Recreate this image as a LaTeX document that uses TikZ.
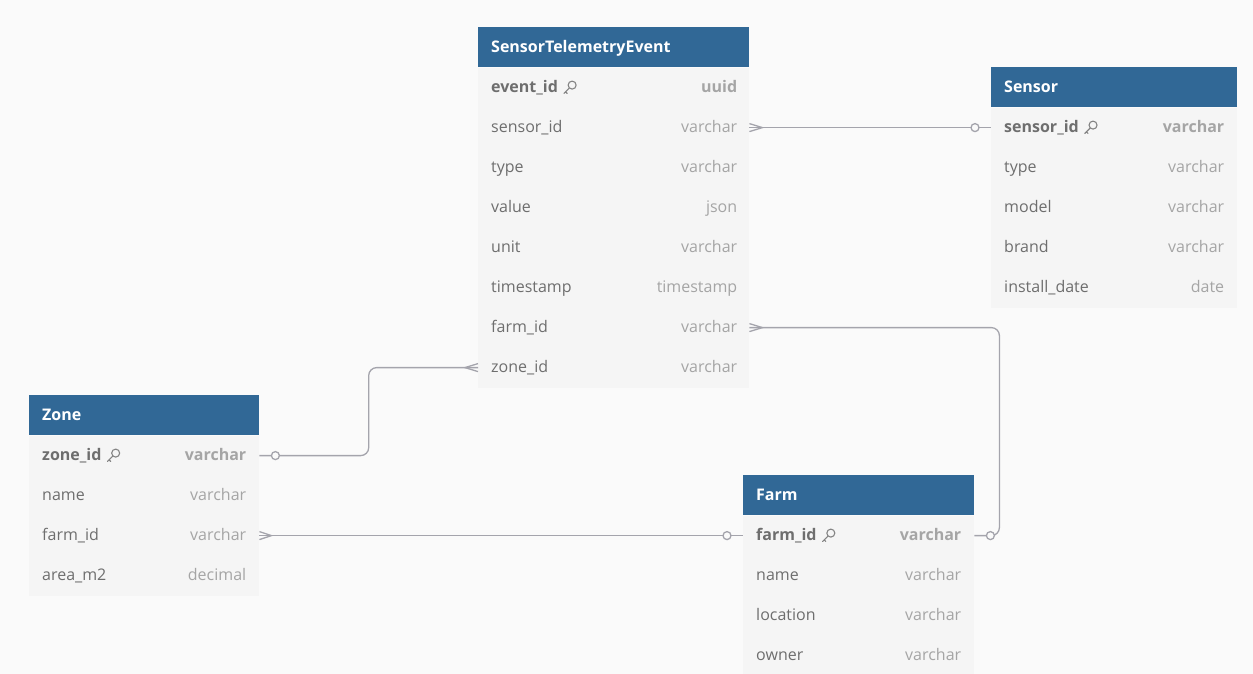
\documentclass[tikz,border=0pt]{standalone}
\usepackage{fontspec}
\setmainfont{Open Sans}
\usetikzlibrary{positioning,calc}
\definecolor{canvas}{HTML}{FAFAFA}
\definecolor{hdrblue}{HTML}{316896}
\definecolor{rowbg}{HTML}{F5F5F5}
\definecolor{fieldtxt}{HTML}{6E6E6E}
\definecolor{typetxt}{HTML}{A5A5A5}
\definecolor{linkgray}{HTML}{A4A4AC}
\tikzset{
  header/.style={rectangle,fill=hdrblue,minimum height=40pt,anchor=north west,inner sep=0pt},
  title/.style={text=white,font=\fontsize{16}{19}\selectfont\bfseries,inner sep=0pt,anchor=west,
    text height=12.5pt,text depth=2.5pt},
  row/.style={rectangle,fill=rowbg,minimum height=40pt,anchor=north west,inner sep=0pt},
  field/.style={text=fieldtxt,inner sep=0pt,anchor=west,text height=12.5pt,text depth=2.5pt},
  ftype/.style={text=typetxt,inner sep=0pt,anchor=east,text height=12.5pt,text depth=2.5pt},
  pk/.style={font=\fontsize{16}{19}\selectfont\bfseries},
  keyline/.style={draw=fieldtxt!85!white,line width=1.1pt,line cap=round},
  keyicon/.pic={
    \draw[keyline] (9,-2.5) circle (4);
    \draw[keyline] (6.2,0.4) -- (0.8,5.8) (2.4,4.2) -- (4,5.8);
  }
}

\begin{document}
\begin{tikzpicture}[x=1pt,y=-1pt,font=\fontsize{16}{19}\selectfont,
                    link/.style={draw=linkgray,line width=1.3pt},
                    opt/.style={draw=linkgray,line width=1.3pt,fill=canvas}]
	\fill[canvas] (0,0) rectangle (1253,674);
	\useasboundingbox (0,0) rectangle (1253,674);
	\clip (0,0) rectangle (1253,674);

	% SensorTelemetryEvent
	\node[header,minimum width=271pt] (ste) at (478,27) {};
	\node[title,right=13pt of ste.west] (ste-title) {SensorTelemetryEvent};
	\node[row,minimum width=271pt] (ste-0) at (ste.south west) {};
	\node[field,pk,right=13pt of ste-0.west] (ste-0-name) {event\_id};
	\pic at ([xshift=5pt]ste-0-name.east) {keyicon};
	\node[ftype,pk,left=12pt of ste-0.east] (ste-0-type) {uuid};
	\foreach \fname/\ftype [count=\i] in {sensor\_id/varchar,type/varchar,value/json,
	    unit/varchar,timestamp/timestamp,farm\_id/varchar,zone\_id/varchar}{
		\node[row,minimum width=271pt] (ste-\i) at ($(ste-0.north west)+(0,40*\i)$) {};
		\node[field,right=13pt of ste-\i.west] (ste-\i-name) {\fname};
		\node[ftype,left=12pt of ste-\i.east] (ste-\i-type) {\ftype};
	}

	% Sensor
	\node[header,minimum width=246pt] (sen) at (991,67) {};
	\node[title,right=13pt of sen.west] (sen-title) {Sensor};
	\node[row,minimum width=246pt] (sen-0) at (sen.south west) {};
	\node[field,pk,right=13pt of sen-0.west] (sen-0-name) {sensor\_id};
	\pic at ([xshift=5pt]sen-0-name.east) {keyicon};
	\node[ftype,pk,left=13pt of sen-0.east] (sen-0-type) {varchar};
	\foreach \fname/\ftype [count=\i] in {type/varchar,model/varchar,brand/varchar,
	    install\_date/date}{
		\node[row,minimum width=246pt] (sen-\i) at ($(sen-0.north west)+(0,40*\i)$) {};
		\node[field,right=13pt of sen-\i.west] (sen-\i-name) {\fname};
		\node[ftype,left=13pt of sen-\i.east] (sen-\i-type) {\ftype};
	}

	% Zone
	\node[header,minimum width=230pt] (zon) at (29,395) {};
	\node[title,right=13pt of zon.west] (zon-title) {Zone};
	\node[row,minimum width=230pt] (zon-0) at (zon.south west) {};
	\node[field,pk,right=13pt of zon-0.west] (zon-0-name) {zone\_id};
	\pic at ([xshift=5pt]zon-0-name.east) {keyicon};
	\node[ftype,pk,left=13pt of zon-0.east] (zon-0-type) {varchar};
	\foreach \fname/\ftype [count=\i] in {name/varchar,farm\_id/varchar,area\_m2/decimal}{
		\node[row,minimum width=230pt] (zon-\i) at ($(zon-0.north west)+(0,40*\i)$) {};
		\node[field,right=13pt of zon-\i.west] (zon-\i-name) {\fname};
		\node[ftype,left=13pt of zon-\i.east] (zon-\i-type) {\ftype};
	}

	% Farm
	\node[header,minimum width=231pt] (frm) at (743,475) {};
	\node[title,right=13pt of frm.west] (frm-title) {Farm};
	\node[row,minimum width=231pt] (frm-0) at (frm.south west) {};
	\node[field,pk,right=13pt of frm-0.west] (frm-0-name) {farm\_id};
	\pic at ([xshift=5pt]frm-0-name.east) {keyicon};
	\node[ftype,pk,left=13pt of frm-0.east] (frm-0-type) {varchar};
	\foreach \fname/\ftype [count=\i] in {name/varchar,location/varchar,owner/varchar}{
		\node[row,minimum width=231pt] (frm-\i) at ($(frm-0.north west)+(0,40*\i)$) {};
		\node[field,right=13pt of frm-\i.west] (frm-\i-name) {\fname};
		\node[ftype,left=13pt of frm-\i.east] (frm-\i-type) {\ftype};
	}

	% relations
	\draw[link] (ste-1.east) -- (sen-0.west);
	\draw[link] ([yshift=4pt]ste-1.east) -- ++(13,4) -- ++(-13,4);
	\draw[opt] ([xshift=-16pt]sen-0.west) circle (4);

	\draw[link,rounded corners=8pt] (ste-7.west) -| ($(ste-7.west)!0.5!(zon-0.east)$) |- (zon-0.east);
	\draw[link] ([yshift=4pt]ste-7.west) -- ++(-13,4) -- ++(13,4);
	\draw[opt] ([xshift=16pt]zon-0.east) circle (4);

	\draw[link] (zon-2.east) -- (frm-0.west);
	\draw[link] ([yshift=4pt]zon-2.east) -- ++(12,4) -- ++(-12,4);
	\draw[opt] ([xshift=-16pt]frm-0.west) circle (4);

	\draw[link,rounded corners=8pt] (ste-6.east) -| ([xshift=25pt]frm-0.east) -- (frm-0.east);
	\draw[link] ([yshift=4pt]ste-6.east) -- ++(13,4) -- ++(-13,4);
	\draw[opt] ([xshift=16pt]frm-0.east) circle (4);
\end{tikzpicture}
\end{document}
